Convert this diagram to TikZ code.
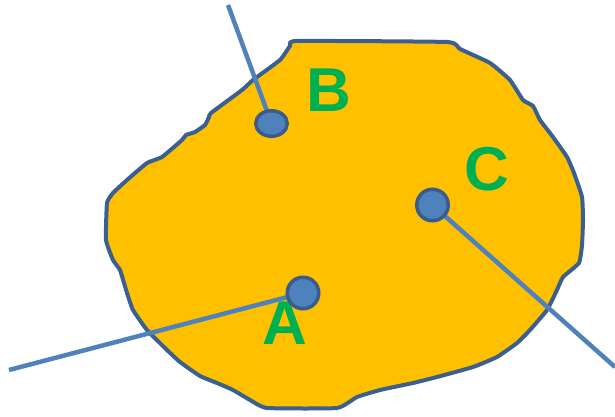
\documentclass[tikz,border=0pt]{standalone}
\usepackage{fontspec}
\setmainfont{Liberation Sans}
\usetikzlibrary{shapes.geometric}
\definecolor{blobfill}{HTML}{FFC000}
\definecolor{blobedge}{HTML}{3B6090}
\definecolor{linecol}{HTML}{4F81BD}
\definecolor{dotedge}{HTML}{385D8A}
\definecolor{lblgreen}{HTML}{00B050}
\tikzset{
  blob/.style={fill=blobfill, draw=blobedge, line width=4pt, line join=round},
  ray/.style={draw=linecol, line width=4.5pt},
  dot/.style={circle, fill=linecol, draw=dotedge, line width=3.5pt, minimum size=31.5pt, inner sep=0pt},
  edot/.style={ellipse, fill=linecol, draw=dotedge, line width=3.5pt, minimum width=31.5pt, minimum height=25.5pt, inner sep=0pt},
  lbl/.style={text=lblgreen, font=\bfseries\fontsize{62}{62}\selectfont, inner sep=0pt}
}
\begin{document}
\begin{tikzpicture}[x=1pt,y=-1pt]
\useasboundingbox (0,0) rectangle (615,417);
\draw[blob] plot[smooth cycle, tension=0.25] coordinates {
(297,41) (447,42) (460,49) (490,63) (510,80) (523,100) (533,106) (540,120)
(553,137) (567,157) (574,173) (582,197) (583,220) (582,245) (579,263)
(563,277) (557,290) (547,310) (530,330) (517,343) (497,357) (473,367)
(437,377) (413,383) (380,390) (357,397) (337,408) (267,408) (250,400)
(233,390) (217,383) (200,376) (180,362) (167,350) (147,330) (133,310)
(127,293) (120,270) (113,260) (106,240) (107,203) (113,193) (127,180)
(147,163) (162,157) (182,140) (186,135) (195,132) (205,125) (209,117)
(211,113) (242,90) (253,80) (280,60) (290,46)};
\node[lbl] (labB) at (329,90) {B};
\node[lbl] (labC) at (487,169) {C};
\node[lbl] (labA) at (284.5,323.5) {A};
\coordinate (pA) at (303,293);
\coordinate (pB) at (271.5,123.5);
\coordinate (pC) at (432.5,205);
\coordinate (eA) at (9,370);
\coordinate (eB) at (228,5);
\coordinate (eC) at (615,367);
\draw[ray] (eA) -- (pA);
\draw[ray] (eB) -- (pB);
\draw[ray] (pC) -- (eC);
\node[dot] (A) at (pA) {};
\node[edot] (B) at (pB) {};
\node[dot] (C) at (pC) {};
\end{tikzpicture}
\end{document}
